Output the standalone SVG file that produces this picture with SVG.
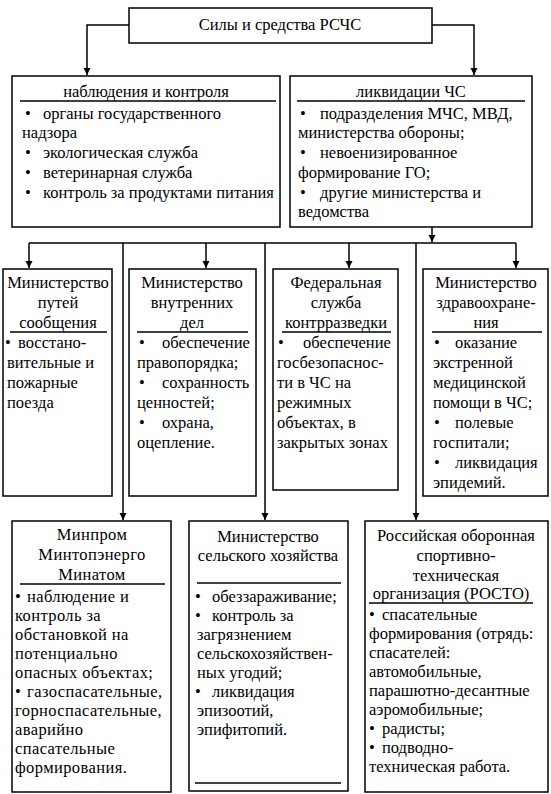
<svg xmlns="http://www.w3.org/2000/svg" width="551" height="794" viewBox="0 0 551 794">
<style>
  .box{fill:#fff;stroke:#000;stroke-width:1.5}
  .ln{stroke:#000;stroke-width:1.5;fill:none}
  .ul{stroke:#000;stroke-width:1.3}
  text{font-family:'Liberation Serif','Times New Roman',serif;font-size:16.5px;fill:#000}
  .c{text-anchor:middle}
  .sp text{letter-spacing:0.4px}
</style>
<defs>
  <marker id="ar" markerUnits="userSpaceOnUse" markerWidth="8" markerHeight="8" refX="7" refY="3.5" orient="auto">
    <path d="M0,0 L7,3.5 L0,7 z" fill="#000"/>
  </marker>
</defs>
<rect width="551" height="794" fill="#fff"/>

<g id="connectors">
  <path class="ln" d="M129,25 H87 V75" marker-end="url(#ar)"/>
  <path class="ln" d="M432,25 H474 V75" marker-end="url(#ar)"/>
  <path class="ln" d="M432,227 V242" marker-end="url(#ar)"/>
  <path class="ln" d="M29,243 H516"/>
  <path class="ln" d="M29,243 V268" marker-end="url(#ar)"/>
  <path class="ln" d="M206,243 V268" marker-end="url(#ar)"/>
  <path class="ln" d="M349,243 V268" marker-end="url(#ar)"/>
  <path class="ln" d="M516,243 V268" marker-end="url(#ar)"/>
  <path class="ln" d="M123,243 V520" marker-end="url(#ar)"/>
  <path class="ln" d="M265,243 V520" marker-end="url(#ar)"/>
  <path class="ln" d="M416,243 V520" marker-end="url(#ar)"/>
</g>

<g id="root">
  <rect class="box" x="129" y="8" width="303" height="35"/>
  <text class="c" x="280" y="30">Силы и средства РСЧС</text>
</g>

<g id="monitoring">
  <rect class="box" x="12" y="76" width="268" height="151"/>
  <text class="c" x="146" y="97">наблюдения и контроля</text>
  <line class="ul" x1="20" y1="101" x2="276" y2="101"/>
  <text x="25" y="119">•</text><text x="43" y="119">органы государственного</text>
  <text x="22" y="138">надзора</text>
  <text x="25" y="158">•</text><text x="43" y="158">экологическая служба</text>
  <text x="25" y="178">•</text><text x="43" y="178">ветеринарная служба</text>
  <text x="25" y="198">•</text><text x="43" y="198">контроль за продуктами питания</text>
</g>

<g id="liquidation">
  <rect class="box" x="290" y="76" width="242" height="151"/>
  <text class="c" x="411" y="97">ликвидации ЧС</text>
  <line class="ul" x1="297" y1="101" x2="525" y2="101"/>
  <text x="300" y="119">•</text><text x="320" y="119">подразделения МЧС, МВД,</text>
  <text x="298" y="138">министерства обороны;</text>
  <text x="300" y="158">•</text><text x="320" y="158">невоенизированное</text>
  <text x="298" y="178">формирование ГО;</text>
  <text x="300" y="198">•</text><text x="320" y="198">другие министерства и</text>
  <text x="298" y="217">ведомства</text>
</g>

<g id="mps">
  <rect class="box" x="3" y="269" width="109" height="227"/>
  <text class="c" x="58" y="288">Министерство</text>
  <text class="c" x="58" y="308">путей</text>
  <text class="c" x="58" y="328">сообщения</text>
  <line class="ul" x1="10" y1="332" x2="107" y2="332"/>
  <text x="5" y="348">•</text><text x="18" y="348">восстано-</text>
  <text x="7" y="368">вительные и</text>
  <text x="7" y="388">пожарные</text>
  <text x="7" y="408">поезда</text>
</g>

<g id="mvd">
  <rect class="box" x="129" y="269" width="127" height="227"/>
  <text class="c" x="192" y="288">Министерство</text>
  <text class="c" x="192" y="308">внутренних</text>
  <text class="c" x="192" y="328">дел</text>
  <line class="ul" x1="137" y1="332" x2="248" y2="332"/>
  <text x="139" y="348">•</text><text x="162" y="348">обеспечение</text>
  <text x="137" y="368">правопорядка;</text>
  <text x="139" y="388">•</text><text x="162" y="388">сохранность</text>
  <text x="137" y="408">ценностей;</text>
  <text x="139" y="428">•</text><text x="162" y="428">охрана,</text>
  <text x="137" y="448">оцепление.</text>
</g>

<g id="fsk">
  <rect class="box" x="273" y="269" width="125" height="221"/>
  <text class="c" x="336" y="288">Федеральная</text>
  <text class="c" x="336" y="308">служба</text>
  <text class="c" x="336" y="328">контрразведки</text>
  <line class="ul" x1="282" y1="332" x2="391" y2="332"/>
  <text x="278" y="348">•</text><text x="303" y="348">обеспечение</text>
  <text x="277" y="368">госбезопаснос-</text>
  <text x="277" y="388">ти в ЧС на</text>
  <text x="277" y="408">режимных</text>
  <text x="277" y="428">объектах, в</text>
  <text x="277" y="448">закрытых зонах</text>
</g>

<g id="health">
  <rect class="box" x="423" y="269" width="125" height="227"/>
  <text class="c" x="486" y="288">Министерство</text>
  <text class="c" x="486" y="308">здравоохране-</text>
  <text class="c" x="486" y="328">ния</text>
  <line class="ul" x1="432" y1="332" x2="542" y2="332"/>
  <text x="434" y="348">•</text><text x="455" y="348">оказание</text>
  <text x="433" y="368">экстренной</text>
  <text x="433" y="388">медицинской</text>
  <text x="433" y="408">помощи в ЧС;</text>
  <text x="434" y="428">•</text><text x="455" y="428">полевые</text>
  <text x="433" y="448">госпитали;</text>
  <text x="434" y="468">•</text><text x="455" y="468">ликвидация</text>
  <text x="433" y="488">эпидемий.</text>
</g>

<g id="minprom" class="sp">
  <rect class="box" x="12" y="521" width="159" height="271"/>
  <text class="c" x="92" y="540">Минпром</text>
  <text class="c" x="92" y="560">Минтопэнерго</text>
  <text class="c" x="92" y="580">Минатом</text>
  <line class="ul" x1="20" y1="584" x2="165" y2="584"/>
  <text x="15" y="602">•</text><text x="27" y="602">наблюдение и</text>
  <text x="15" y="621">контроль за</text>
  <text x="15" y="640">обстановкой на</text>
  <text x="15" y="659">потенциально</text>
  <text x="15" y="678">опасных объектах;</text>
  <text x="15" y="697">•</text><text x="27" y="697">газоспасательные,</text>
  <text x="15" y="716">горноспасательные,</text>
  <text x="15" y="735">аварийно</text>
  <text x="15" y="754">спасательные</text>
  <text x="15" y="773">формирования.</text>
</g>

<g id="agriculture">
  <rect class="box" x="189" y="521" width="159" height="270"/>
  <text class="c" x="268" y="542">Министерство</text>
  <text class="c" x="268" y="561">сельского хозяйства</text>
  <line class="ul" x1="197" y1="583" x2="341" y2="583"/>
  <text x="195" y="602">•</text><text x="212" y="602">обеззараживание;</text>
  <text x="195" y="621">•</text><text x="212" y="621">контроль за</text>
  <text x="197" y="640">загрязнением</text>
  <text x="197" y="659">сельскохозяйствен-</text>
  <text x="197" y="678">ных угодий;</text>
  <text x="195" y="697">•</text><text x="212" y="697">ликвидация</text>
  <text x="197" y="716">эпизоотий,</text>
  <text x="197" y="735">эпифитопий.</text>
  <line class="ul" x1="195" y1="783" x2="341" y2="783"/>
</g>

<g id="rosto">
  <rect class="box" x="365" y="521" width="183" height="271"/>
  <text class="c" x="456" y="541">Российская оборонная</text>
  <text class="c" x="456" y="561">спортивно-</text>
  <text class="c" x="456" y="581">техническая</text>
  <text class="c" x="451" y="599">организация (РОСТО)</text>
  <line class="ul" x1="369" y1="603" x2="533" y2="603"/>
  <text x="369" y="620">•</text><text x="382" y="620">спасательные</text>
  <text x="369" y="639">формирования (отрядь:</text>
  <text x="369" y="658">спасателей:</text>
  <text x="369" y="677">автомобильные,</text>
  <text x="369" y="696">парашютно-десантные</text>
  <text x="369" y="715">аэромобильные;</text>
  <text x="369" y="734">•</text><text x="382" y="734">радисты;</text>
  <text x="369" y="753">•</text><text x="382" y="753">подводно-</text>
  <text x="369" y="772">техническая работа.</text>
</g>
</svg>
